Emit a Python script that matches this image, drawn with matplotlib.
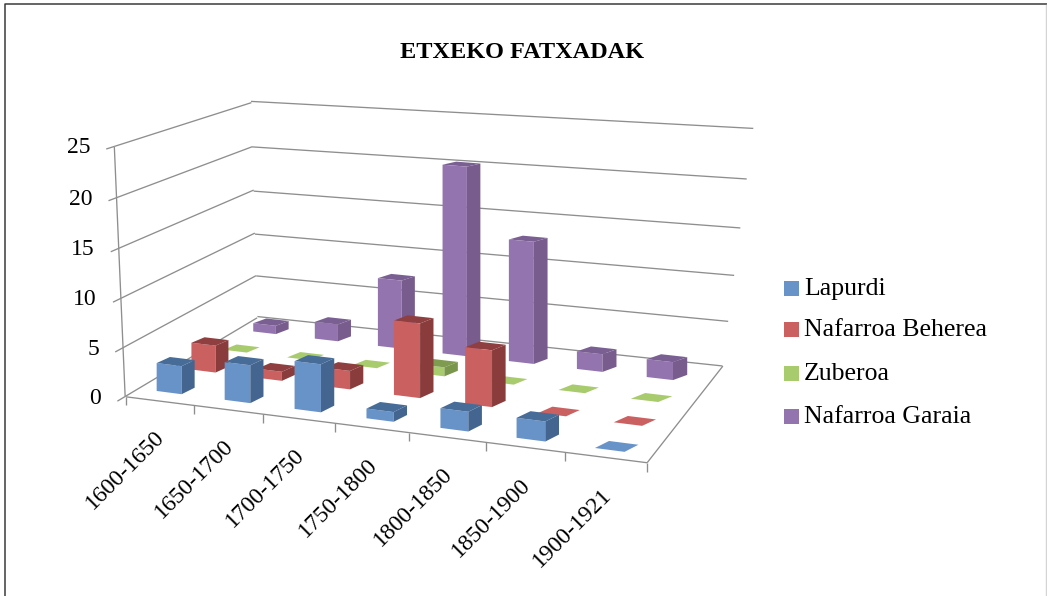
import numpy as np
import matplotlib
matplotlib.use('Agg')
import matplotlib.pyplot as plt
import matplotlib.patches as patches
from mpl_toolkits.mplot3d import Axes3D
from mpl_toolkits.mplot3d.art3d import Line3DCollection, Poly3DCollection

plt.rcParams['font.family'] = ['Liberation Serif', 'DejaVu Serif']

title = 'ETXEKO FATXADAK'
periods = ['1600-1650', '1650-1700', '1700-1750', '1750-1800', '1800-1850', '1850-1900', '1900-1921']
series = ['Lapurdi', 'Nafarroa Beherea', 'Zuberoa', 'Nafarroa Garaia']
lapurdi = [3, 4, 5, 1, 2, 2, 0]
nafarroa_beherea = [3, 1, 2, 8, 6, 0, 0]
zuberoa = [0, 0, 0, 1, 0, 0, 0]
nafarroa_garaia = [1, 2, 8, 22, 14, 2, 2]
z_ticks = [0, 5, 10, 15, 20, 25]

# front, top and side shades per series
front_colors = ['#6893C8', '#CB6060', '#A8CB6E', '#9474AE']
top_colors = ['#476C98', '#8F3F3F', '#7E9B50', '#7A5F92']
side_colors = ['#44658F', '#8A3C3C', '#7A964D', '#775C8D']

W, H = 1047, 596
BAR_W = 0.37
BAR_D = 0.305
GRID = '#8E8E8E'

# pixel positions of the value levels on the three vertical edges of the box
front_edge = np.array([[125.7, 396], [122, 348], [120, 299], [119, 248], [117, 198], [115, 146]])
corner_edge = np.array([[257, 318], [256, 275], [255.5, 233], [254, 191], [253, 147], [250, 102]])
right_edge = np.array([[723, 365], [728, 322], [733, 276], [740, 228], [748, 179], [753, 128]])

# left wall lives in x=0, back wall is fitted with y dropped, floor has upright ticks
left_3d = [(0, y, v) for y in (0, 4) for v in z_ticks]
left_px = np.vstack([front_edge, corner_edge])
back_3d = [(x, 0, v) for x in (0, 7) for v in z_ticks]
back_px = np.vstack([corner_edge, right_edge])
floor_3d = [(0, 0, 0), (1, 0, 0), (2, 0, 0), (3, 0, 0), (4, 0, 0), (5, 0, 0), (6, 0, 0), (7, 0, 0),
            (7, 4, 0), (0, 4, 0), (0, 0, -1), (7, 0, -1)]
floor_px = np.array([[125.7, 396], [194, 405], [264, 414], [335, 423], [410, 433], [486, 443], [565, 453],
                     [647, 463], [723, 365], [257, 318], [125.7, 406], [647, 473]])

# bar camera: front-left corners of some bars, the columns stay upright
bar_cells = np.array([[0, 0, 0], [6, 0, 0], [0, 3, 0], [6, 3, 0], [3, 1, 0], [4, 1, 0],
                      [3, 3, 0], [4, 3, 0], [0, 1, 0], [2, 0, 0],
                      [3, 3, 22], [4, 3, 14], [3, 1, 8], [2, 0, 5],
                      [0, 0, 3], [0, 1, 3], [0, 3, 1], [6, 3, 2]], dtype=float)
bar_px = np.array([[157, 392], [596, 447], [253, 331], [646, 376], [393, 396], [465, 403],
                   [441, 353], [511, 362], [192, 369], [294, 411],
                   [442, 163], [511, 243], [393, 320], [294, 360],
                   [157, 363], [192, 342], [253, 323], [646, 359]], dtype=float)
bar_3d = bar_cells + np.array([0.5 - BAR_W / 2, 0.5 - BAR_D / 2, 0])


def fit_camera(p3, px, upright=False):
    rows = []
    rhs = []
    for (x, y, z), (u, v) in zip(p3, px):
        if upright:
            rows.append([x, y, 1, 0, 0, 0, 0, -u * x, -u * y])
            rows.append([0, 0, 0, x, y, z, 1, -v * x, -v * y])
        else:
            rows.append([x, y, z, 1, 0, 0, 0, 0, -u * x, -u * y, -u * z])
            rows.append([0, 0, 0, 0, x, y, z, 1, -v * x, -v * y, -v * z])
        rhs += [u, v]
    s = np.linalg.lstsq(np.array(rows), np.array(rhs), rcond=None)[0]
    depth = [1e-3, 1e-3, 1e-3, 0.5]
    if upright:
        return np.array([[s[0], s[1], 0, s[2]], [s[3], s[4], s[5], s[6]], depth, [s[7], s[8], 0, 1.0]])
    return np.array([s[:4], s[4:8], depth, [s[8], s[9], s[10], 1.0]])


def project(P, x, y, z):
    q = P @ np.array([x, y, z, 1.0])
    return q[0] / q[3], q[1] / q[3]


def make_axes(P):
    ax = fig.add_axes([0, 0, 1, 1], projection='3d', computed_zorder=False)
    ax.set_axis_off()
    ax.patch.set_visible(False)
    ax.apply_aspect = lambda position=None: None
    ax._set_position([0, 0, 1, 1])
    # pixels (top-left origin) -> 2d coordinates of the axes
    flip = np.array([[1, 0, 0, 0], [0, -1, 0, H], [0, 0, 1, 0], [0, 0, 0, 1]], dtype=float)
    inv = np.linalg.inv(ax.transData.get_affine().get_matrix())
    to_axes = np.eye(4)
    to_axes[0, 0], to_axes[0, 3] = inv[0, 0], inv[0, 2]
    to_axes[1, 1], to_axes[1, 3] = inv[1, 1], inv[1, 2]
    M = to_axes @ flip @ P
    ax.get_proj = lambda: M
    return ax


def grid_lines(ax, segs):
    ax.add_collection3d(Line3DCollection(segs, colors=GRID, linewidths=0.95), autolim=False)


def label(x, y, s, **kw):
    fig.text(x / W, 1 - y / H, s, color='black', **kw)


def bar_faces(i, s, value):
    # front-left corner, the depth edge leans right the further right the bar stands
    x0 = i + 0.5 - BAR_W / 2
    x1 = x0 + BAR_W
    y0 = s + 0.5 - BAR_D / 2
    y1 = y0 + BAR_D
    lean = 0.03 + 0.0115 * (i + 0.5) + 0.012 * s
    top = [(x0, y0, value), (x1, y0, value), (x1 + lean, y1, value), (x0 + lean, y1, value)]
    front = [(x0, y0, 0), (x1, y0, 0), (x1, y0, value), (x0, y0, value)]
    side = [(x1, y0, 0), (x1 + lean, y1, 0), (x1 + lean, y1, value), (x1, y0, value)]
    return top, front, side


fig = plt.figure(figsize=(W / 100, H / 100), dpi=100)
P_left = fit_camera(left_3d, left_px)
P_back = fit_camera(back_3d, back_px)
P_floor = fit_camera(floor_3d, floor_px, upright=True)
P_bar = fit_camera(bar_3d, bar_px, upright=True)
ax_left = make_axes(P_left)
ax_back = make_axes(P_back)
ax_floor = make_axes(P_floor)
ax_bar = make_axes(P_bar)

# walls
grid_lines(ax_left, [[(0, 0, v), (0, 4, v)] for v in z_ticks]
           + [[(0, 0, 0), (0, 0, 25)]]
           + [[(0, -0.2, v), (0, 0, v)] for v in z_ticks])
grid_lines(ax_back, [[(0, 4, v), (7, 4, v)] for v in z_ticks])

# floor edges and category ticks
grid_lines(ax_floor, [[(0, 0, 0), (7, 0, 0)], [(7, 0, 0), (7, 4, 0)]]
           + [[(i, 0, 0), (i, 0, -0.9)] for i in range(8)])

for v in z_ticks:
    x, y = project(P_left, 0, 0, v)
    label(x - 24, y + 1.5, str(v), ha='right', va='center', fontsize=17)

# category labels hang under the front edge
for i, p in enumerate(periods):
    x, y = project(P_floor, i + 0.5, 0, 0)
    label(x + 2, 434 + (x - 160) * 0.13, p, rotation=45, ha='right', va='center',
          rotation_mode='anchor', fontsize=17)

# bars, back row first so the front ones cover them
rows = [lapurdi, nafarroa_beherea, zuberoa, nafarroa_garaia]
order = 10
for s in range(3, -1, -1):
    for i in range(6, -1, -1):
        top, front, side = bar_faces(i, s, rows[s][i])
        if rows[s][i] == 0:
            faces, cols = [top], [front_colors[s]]
        else:
            faces, cols = [front, side, top], [front_colors[s], side_colors[s], top_colors[s]]
        ax_bar.add_collection3d(Poly3DCollection(faces, facecolors=cols, linewidths=0, zorder=order),
                                autolim=False)
        order += 1

label(522, 52, title, ha='center', va='center', fontsize=17.5, fontweight='bold')

# legend
swatch_y = [288.5, 329.5, 373.5, 416.5]
text_y = [295, 336, 380, 423]
for y0, y1, name, c in zip(swatch_y, text_y, series, front_colors):
    fig.add_artist(patches.Rectangle((784 / W, 1 - (y0 + 7.5) / H), 15 / W, 15 / H, transform=fig.transFigure,
                                     facecolor=c, edgecolor='none'))
    label(804, y1, name, ha='left', va='baseline', fontsize=18.5)

# outer frame of the chart area
fig.add_artist(plt.Line2D([5.2 / W, 5.2 / W, 1], [0, 1 - 4 / H, 1 - 4 / H],
                          transform=fig.transFigure, color='#3A3A3A', lw=1.1))
fig.add_artist(plt.Line2D([1046 / W, 1046 / W], [0, 1 - 5 / H],
                          transform=fig.transFigure, color='#D4D4D4', lw=1.0))

fig.savefig('out.png', dpi=100)
